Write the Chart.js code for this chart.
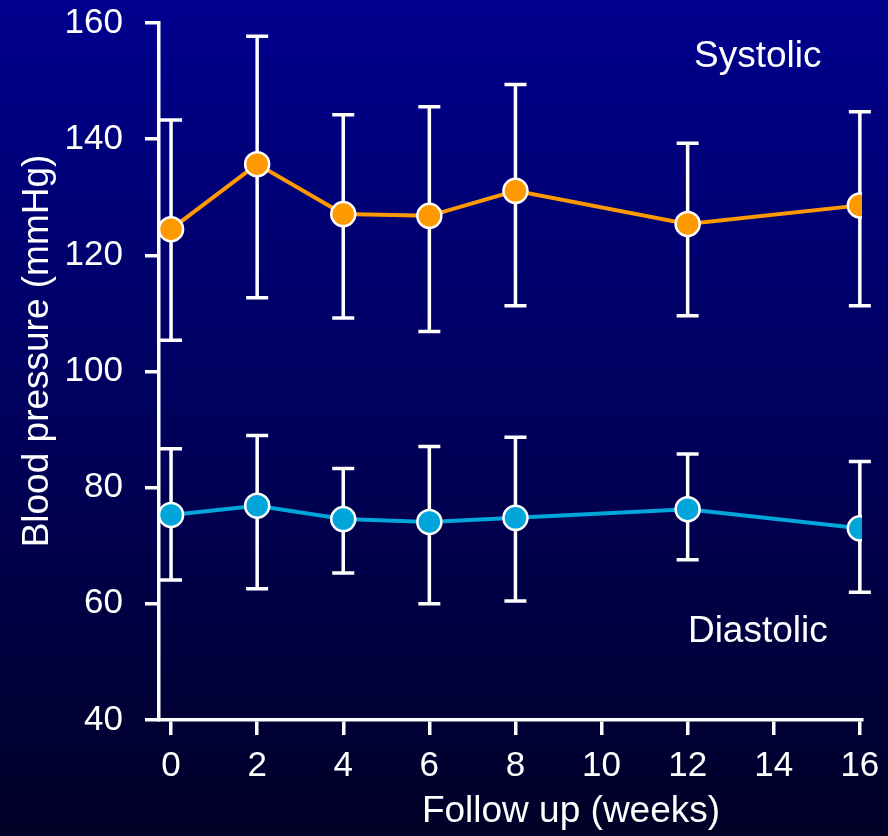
<!DOCTYPE html>
<html>
<head>
<meta charset="utf-8">
<script src="https://cdn.jsdelivr.net/npm/chart.js@4"></script>
<style>
  html, body { margin: 0; padding: 0; }
  body { background: linear-gradient(to bottom, #00008e 0%, #00005c 50%, #000026 100%); }
  #wrap { width: 888px; height: 836px; position: relative; }
</style>
</head>
<body>
<div id="wrap"><canvas id="grafico-presion"></canvas></div>
<script>
// Datos
const semanas = [0, 2, 4, 6, 8, 12, 16];
const sistolica = [124.5, 135.7, 127.1, 126.8, 131.1, 125.4, 128.6];
const sistolicaSup = [143.3, 157.7, 144.2, 145.6, 149.4, 139.3, 144.7];
const sistolicaInf = [105.4, 112.7, 109.2, 106.9, 111.3, 109.6, 111.3];
const diastolica = [75.3, 76.9, 74.6, 74.1, 74.8, 76.3, 73.0];
const diastolicaSup = [86.7, 89.0, 83.3, 87.1, 88.7, 85.8, 84.5];
const diastolicaInf = [64.1, 62.6, 65.3, 60.0, 60.5, 67.6, 62.0];
const ticksX = [0, 2, 4, 6, 8, 10, 12, 14, 16];
const ticksY = [40, 60, 80, 100, 120, 140, 160];

const fuente = "'Liberation Sans', Arial, sans-serif";

// Barras de error (dibujadas antes de las lineas)
const barrasError = {
    id: 'barrasError',
    beforeDatasetsDraw(chart) {
        const { ctx, scales: { x, y } } = chart;
        const grupos = [[sistolicaSup, sistolicaInf], [diastolicaSup, diastolicaInf]];
        ctx.save();
        ctx.strokeStyle = '#ffffff';
        ctx.lineWidth = 3.5;
        grupos.forEach(([sup, inf]) => {
            semanas.forEach((s, i) => {
                const px = x.getPixelForValue(s);
                const y1 = y.getPixelForValue(sup[i]);
                const y2 = y.getPixelForValue(inf[i]);
                ctx.beginPath();
                ctx.moveTo(px, y1); ctx.lineTo(px, y2);
                ctx.moveTo(px - 11, y1); ctx.lineTo(px + 11, y1);
                ctx.moveTo(px - 11, y2); ctx.lineTo(px + 11, y2);
                ctx.stroke();
            });
        });
        ctx.restore();
    }
};

// Textos: titulos de ejes y etiquetas de series
const textos = {
    id: 'textos',
    afterDraw(chart) {
        const { ctx, scales: { x, y } } = chart;
        ctx.save();
        ctx.fillStyle = '#ffffff';
        ctx.font = `37px ${fuente}`;
        ctx.textAlign = 'center';
        ctx.textBaseline = 'middle';
        ctx.fillText('Systolic', x.getPixelForValue(13.63), y.getPixelForValue(154.1));
        ctx.fillText('Diastolic', x.getPixelForValue(13.63), y.getPixelForValue(55.2));
        ctx.fillText('Follow up (weeks)', 571, 812);
        ctx.translate(38, 351);
        ctx.rotate(-Math.PI / 2);
        ctx.fillText('Blood pressure (mmHg)', 0, 0);
        ctx.restore();
    }
};

const ctx1 = document.getElementById('grafico-presion').getContext('2d');
new Chart(ctx1, {
    type: 'line',
    data: {
        datasets: [
            {
                label: 'Systolic',
                data: semanas.map((s, i) => ({ x: s, y: sistolica[i] })),
                borderColor: '#ff9900',
                backgroundColor: '#ff9900',
                borderWidth: 4,
                pointRadius: 12,
                pointBorderColor: '#ffffff',
                pointBorderWidth: 2.5,
                pointBackgroundColor: '#ff9900',
                fill: false,
            },
            {
                label: 'Diastolic',
                data: semanas.map((s, i) => ({ x: s, y: diastolica[i] })),
                borderColor: '#00a6d9',
                backgroundColor: '#00a6d9',
                borderWidth: 4,
                pointRadius: 12,
                pointBorderColor: '#ffffff',
                pointBorderWidth: 2.5,
                pointBackgroundColor: '#00a6d9',
                fill: false,
            }
        ]
    },
    options: {
        responsive: true,
        maintainAspectRatio: false,
        animation: false,
        layout: { padding: { top: 23, right: 26, left: 0, bottom: 0 } },
        plugins: {
            legend: { display: false },
            tooltip: { enabled: false },
        },
        scales: {
            x: {
                type: 'linear',
                min: -0.28,
                max: 16.05,
                afterBuildTicks: (axis) => { axis.ticks = ticksX.map(v => ({ value: v })); },
                afterFit: (axis) => { axis.height = 116; axis.paddingLeft = 0; axis.paddingRight = 0; },
                border: { display: true, color: '#ffffff', width: 3.5 },
                grid: { drawOnChartArea: false, drawTicks: true, tickLength: 15, color: '#ffffff', lineWidth: 3.5 },
                ticks: { color: '#ffffff', font: { family: fuente, size: 35 }, padding: 10, maxRotation: 0 },
            },
            y: {
                min: 40,
                max: 160,
                afterBuildTicks: (axis) => { axis.ticks = ticksY.map(v => ({ value: v })); },
                afterFit: (axis) => { axis.width = 159; axis.paddingTop = 0; axis.paddingBottom = 0; },
                border: { display: true, color: '#ffffff', width: 3.5 },
                grid: { drawOnChartArea: false, drawTicks: true, tickLength: 14, color: '#ffffff', lineWidth: 3.5 },
                ticks: { color: '#ffffff', font: { family: fuente, size: 35 }, padding: 22 },
            }
        }
    },
    plugins: [barrasError, textos]
});
</script>
</body>
</html>
